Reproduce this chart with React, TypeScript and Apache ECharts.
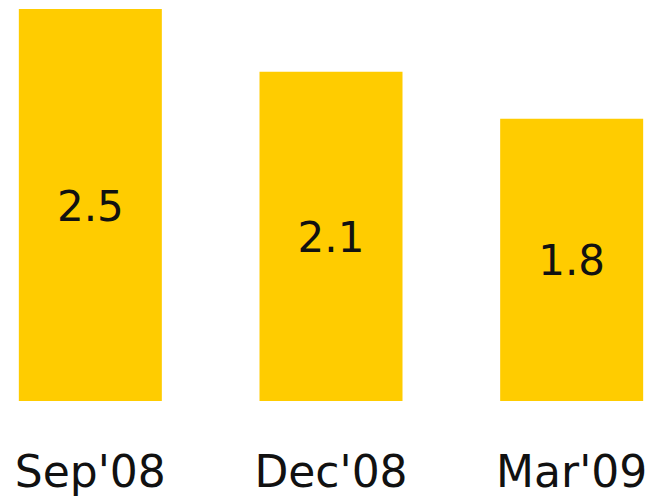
import React, { useEffect, useRef } from "react";
import * as echarts from "echarts";

const categories = ["Sep'08", "Dec'08", "Mar'09"];
const values = [2.5, 2.1, 1.8];

export default function App() {
  const ref = useRef<HTMLDivElement>(null);
  useEffect(() => {
    if (!ref.current) return;
    const chart = echarts.init(ref.current, null, { renderer: "svg" });
    chart.setOption({
      animation: false,
      grid: { left: 0, right: 0, top: 9, bottom: 101, containLabel: false },
      xAxis: {
        type: "category",
        data: categories,
        axisLine: { show: false },
        axisTick: { show: false },
        axisLabel: {
          fontFamily: "DejaVu Sans",
          fontSize: 44,
          color: "#111",
          margin: 48,
        },
      },
      yAxis: {
        type: "value",
        min: 0,
        max: 2.5,
        show: false,
        splitLine: { show: false },
      },
      series: [
        {
          type: "bar",
          data: values,
          barWidth: 143,
          itemStyle: { color: "#FFCC00" },
          label: {
            show: true,
            position: "inside",
            offset: [0, 1],
            fontFamily: "DejaVu Sans",
            fontSize: 42,
            color: "#111",
            formatter: (p: any) => p.value.toFixed(1),
          },
        },
      ],
    });
    return () => chart.dispose();
  }, []);
  return (
    <div style={{ position: "absolute", left: 0, top: 0, width: 658, height: 502, overflow: "hidden" }}>
      <div
        ref={ref}
        style={{ position: "absolute", left: -30.4, top: 0, width: 722.2, height: 502 }}
      />
    </div>
  );
}
